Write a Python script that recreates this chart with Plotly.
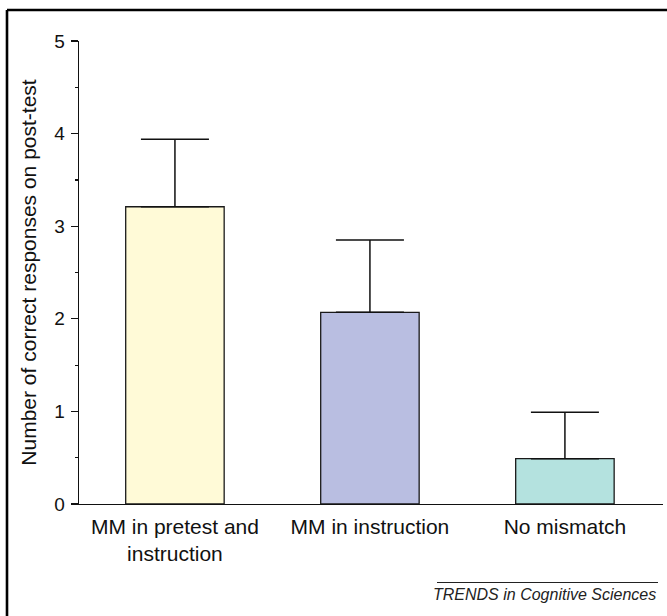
import plotly.graph_objects as go

categories = ["MM in pretest and<br>instruction", "MM in instruction", "No mismatch"]
means = [3.21, 2.07, 0.49]
errors_plus = [0.73, 0.78, 0.50]
errors_minus = [0, 0, 0]
bar_colors = ["#FFFAD7", "#B9BEE1", "#B4E2DF"]
y_ticks = [0, 1, 2, 3, 4, 5]
y_title = "Number of correct responses on post-test"
source_text = "TRENDS in Cognitive Sciences"

W, H = 667, 616
L, R, T, B = 79, 4, 41, 112
pw, ph = W - L - R, H - T - B

def px_x(x):
    return (x - L) / pw

def px_y(y):
    return (H - B - y) / ph

fig = go.Figure()
fig.add_trace(go.Bar(
    x=[0, 1, 2],
    y=means,
    width=0.505,
    marker=dict(color=bar_colors, line=dict(color="#1a1a1a", width=1.3)),
    error_y=dict(type="data", symmetric=False, array=errors_plus,
                 arrayminus=errors_minus, color="#111111", thickness=1.5, width=34),
    hoverinfo="skip",
))

font_family = "Liberation Sans, Arial, Helvetica, sans-serif"

fig.update_layout(
    width=W, height=H,
    margin=dict(l=L, r=R, t=T, b=B, autoexpand=False),
    paper_bgcolor="white", plot_bgcolor="white",
    showlegend=False,
    font=dict(family=font_family, color="#111111"),
    bargap=0.5,
)

fig.update_xaxes(
    range=[-0.492, 2.503],
    tickmode="array", tickvals=[0, 1, 2], ticktext=categories,
    showline=True, linecolor="#111111", linewidth=1.3,
    ticks="", showgrid=False, zeroline=False,
    tickfont=dict(size=21, family=font_family, color="#111111"),
    ticklabelstandoff=3,
    automargin=False,
)

fig.update_yaxes(
    range=[0, 5],
    tickmode="array", tickvals=y_ticks,
    showline=True, linecolor="#111111", linewidth=1.3,
    ticks="outside", ticklen=7, tickwidth=1.3, tickcolor="#111111",
    minor=dict(dtick=0.5, ticks="outside", ticklen=3, tickwidth=1.2, tickcolor="#111111"),
    showgrid=False, zeroline=False,
    tickfont=dict(size=19, family=font_family, color="#111111"),
    ticklabelstandoff=2,
    title=dict(text=y_title, font=dict(size=21, family=font_family, color="#111111"), standoff=12),
    automargin=False,
)

shapes = [
    # outer frame (left and top edges visible)
    dict(type="line", xref="paper", yref="paper", x0=px_x(7), x1=px_x(W + 5), y0=px_y(10), y1=px_y(10),
         line=dict(color="black", width=2.6)),
    dict(type="line", xref="paper", yref="paper", x0=px_x(7), x1=px_x(7), y0=px_y(10), y1=px_y(H + 5),
         line=dict(color="black", width=2.6)),
    # rule above source text
    dict(type="line", xref="paper", yref="paper", x0=px_x(437), x1=px_x(658), y0=px_y(582.5), y1=px_y(582.5),
         line=dict(color="#222222", width=1)),
]
fig.update_layout(shapes=shapes)

fig.add_annotation(
    text="<i>" + source_text + "</i>",
    xref="paper", yref="paper", x=px_x(658), y=px_y(594),
    xanchor="right", yanchor="middle", showarrow=False,
    font=dict(size=16, family=font_family, color="#222222"),
)

fig.write_html(
    "out.html",
    config={"displayModeBar": False, "staticPlot": True},
    post_script="document.body.style.margin='0px';document.body.style.overflow='hidden';",
)
